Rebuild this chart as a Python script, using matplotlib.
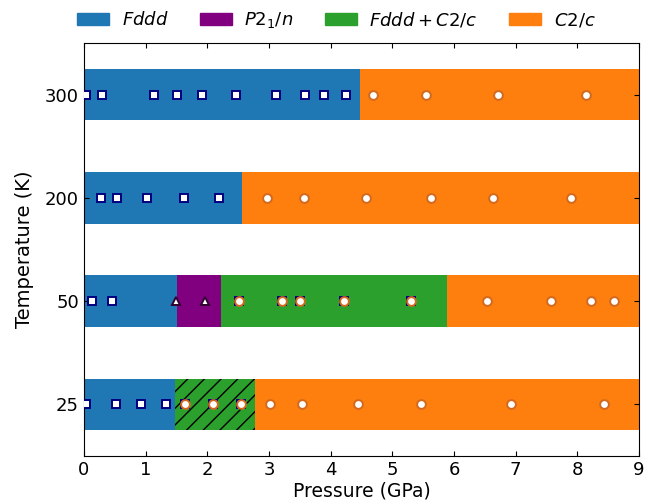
import numpy as np
import matplotlib.pyplot as plt
from matplotlib.patches import Patch

# temperatures (rows, bottom to top)
temps = ['25', '50', '200', '300']

# phase boundaries per row (GPa): list of (start, end, phase)
phase_names = ['Fddd', 'P21n', 'mix', 'C2c']
phase_colors = {'Fddd': '#1f77b4', 'P21n': 'purple', 'mix': '#2ca02c', 'C2c': '#ff7f0e'}
phase_labels = {'Fddd': r'$Fddd$', 'P21n': r'$P2_1/n$', 'mix': r'$Fddd+C2/c$', 'C2c': r'$C2/c$'}

segments_25 = [(0, 1.48, 'Fddd'), (1.48, 2.78, 'mix'), (2.78, 9.0, 'C2c')]
segments_50 = [(0, 1.51, 'Fddd'), (1.51, 2.23, 'P21n'), (2.23, 5.89, 'mix'), (5.89, 9.0, 'C2c')]
segments_200 = [(0, 2.57, 'Fddd'), (2.57, 9.0, 'C2c')]
segments_300 = [(0, 4.47, 'Fddd'), (4.47, 9.0, 'C2c')]
segments = [segments_25, segments_50, segments_200, segments_300]

# measured pressures per row
sq_25 = [0.04, 0.52, 0.92, 1.33]
mix_25 = [1.64, 2.10, 2.55]
circ_25 = [3.02, 3.54, 4.45, 5.47, 6.92, 8.43]

sq_50 = [0.135, 0.46]
tri_50 = [1.50, 1.96]
mix_50 = [2.51, 3.21, 3.50, 4.21, 5.30]
circ_50 = [6.53, 7.57, 8.22, 8.59]

sq_200 = [0.28, 0.54, 1.02, 1.62, 2.19]
circ_200 = [2.97, 3.57, 4.58, 5.62, 6.63, 7.90]

sq_300 = [0.04, 0.30, 1.13, 1.51, 1.92, 2.46, 3.12, 3.58, 3.89, 4.25]
circ_300 = [4.68, 5.54, 6.71, 8.14]

squares = [sq_25, sq_50, sq_200, sq_300]
triangles = [[], tri_50, [], []]
mixed = [mix_25, mix_50, [], []]
circles = [circ_25, circ_50, circ_200, circ_300]

plt.rcParams['font.size'] = 13
plt.rcParams['mathtext.fontset'] = 'dejavusans'
plt.rcParams['hatch.linewidth'] = 1.0

fig = plt.figure(figsize=(6.52, 5.03), dpi=100)
ax = fig.add_axes([0.1288, 0.0934, 0.8512, 0.8211])

for i, row in enumerate(segments):
    for start, end, ph in row:
        hatch = '//' if (ph == 'mix' and i == 0) else None
        ax.barh(i, end - start, left=start, height=0.5, color=phase_colors[ph],
                hatch=hatch, edgecolor='k' if hatch else 'none', linewidth=0, zorder=1)

sq_style = dict(marker='s', ms=6.3, mfc='white', mec='#000080', mew=1.4, ls='none', zorder=3)
tri_style = dict(marker='^', ms=6.3, mfc='white', mec='#300030', mew=1.4, ls='none', zorder=3)
circ_style = dict(marker='o', ms=6.3, mfc='white', mec='#d2691e', mew=1.4, ls='none', zorder=4)

for i in range(len(temps)):
    ax.plot(squares[i], [i] * len(squares[i]), **sq_style)
    ax.plot(triangles[i], [i] * len(triangles[i]), **tri_style)
    ax.plot(mixed[i], [i] * len(mixed[i]), **sq_style)
    ax.plot(mixed[i], [i] * len(mixed[i]), **circ_style)
    ax.plot(circles[i], [i] * len(circles[i]), **circ_style)

ax.set_xlim(0, 9)
ax.set_ylim(-0.5, 3.5)
ax.set_xticks(np.arange(0, 10))
ax.set_yticks(range(len(temps)))
ax.set_yticklabels(temps)
ax.tick_params(direction='in', top=True, right=True, labelsize=13)
ax.set_xlabel('Pressure (GPa)', fontsize=13.5, labelpad=2)
ax.set_ylabel('Temperature (K)', fontsize=14, labelpad=8)

handles = [Patch(color=phase_colors[p], label=phase_labels[p]) for p in phase_names]
fig.legend(handles=handles, loc='upper center', ncol=4, frameon=False,
           bbox_to_anchor=(0.516, 1.012), fontsize=13, handlelength=1.75,
           handletextpad=0.7, columnspacing=1.75)

plt.savefig('out.png', dpi=100)
